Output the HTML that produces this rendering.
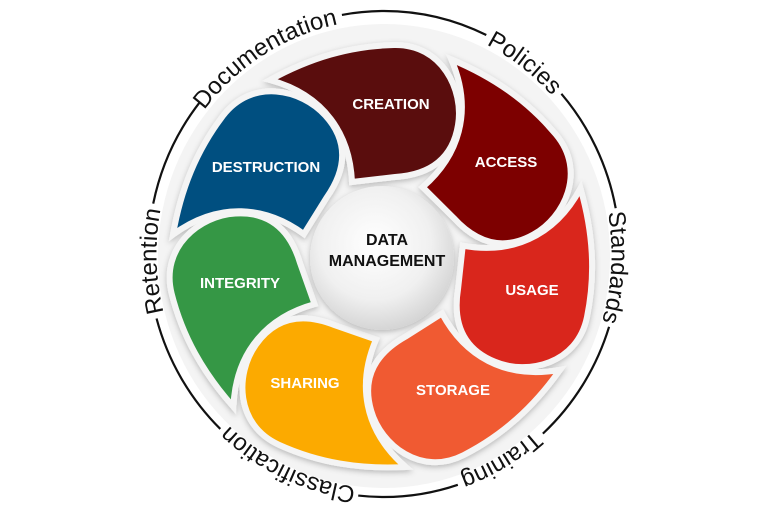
<!DOCTYPE html>
<html><head><meta charset="utf-8"><style>
html,body{margin:0;padding:0;background:#fff;}
svg{display:block;}
</style></head><body>
<svg width="768" height="512" viewBox="0 0 768 512" xmlns="http://www.w3.org/2000/svg">
<defs>
<filter id="sh" x="-20%" y="-20%" width="140%" height="140%"><feDropShadow dx="0" dy="2" stdDeviation="3" flood-color="#000" flood-opacity="0.25"/></filter>
<radialGradient id="cg" cx="45%" cy="40%" r="65%"><stop offset="0" stop-color="#ffffff"/><stop offset="0.6" stop-color="#f0f0f0"/><stop offset="1" stop-color="#cfcfcf"/></radialGradient>
<path id="petal" d="M270,80 C310,58 350,46 394,45 C442,44 464,90 458,125 C452,162 426,175 395,177 L352,182 C350,135 325,95 270,80 Z"/>
<path id="ring" d="M384,11 A236,243 0 0 1 384,497 A236,243 0 0 1 384,11 Z"/>
</defs>
<ellipse cx="384" cy="256" rx="226" ry="232" fill="#f4f4f4"/>
<use href="#ring" fill="none" stroke="#111" stroke-width="2.2" stroke-dasharray="106 96 128 120 127 100 101 156 129 116 113 170 40 0"/>
<g font-family="Liberation Sans, sans-serif" font-size="24" fill="#111" letter-spacing="0.5">
<text dy="0.35em"><textPath href="#ring" startOffset="154" text-anchor="middle">Policies</textPath></text>
<text dy="0.35em"><textPath href="#ring" startOffset="390" text-anchor="middle">Standards</textPath></text>
<text dy="0.35em"><textPath href="#ring" startOffset="627" text-anchor="middle">Training</textPath></text>
<text dy="0.35em"><textPath href="#ring" startOffset="856" text-anchor="middle">Classification</textPath></text>
<text dy="0.35em"><textPath href="#ring" startOffset="1121" text-anchor="middle">Retention</textPath></text>
<text dy="0.35em"><textPath href="#ring" startOffset="1372" text-anchor="middle">Documentation</textPath></text>
</g>
<g stroke="#f4f4f4" stroke-width="6" filter="url(#sh)">
<use href="#petal" fill="#7d0000" transform="rotate(51.43 382 258)"/>
<use href="#petal" fill="#d9251f" transform="rotate(102.86 382 258)"/>
<use href="#petal" fill="#f05a30" transform="rotate(154.29 382 258)"/>
<use href="#petal" fill="#fcaa05" transform="rotate(205.71 382 258)"/>
<use href="#petal" fill="#359745" transform="rotate(257.14 382 258)"/>
<use href="#petal" fill="#064f80" transform="rotate(308.57 382 258)"/>
<use href="#petal" fill="#5a0c0c"/>
</g>
<circle cx="382" cy="258" r="72" fill="url(#cg)" filter="url(#sh)"/>
<g font-family="Liberation Sans, sans-serif" font-size="15" font-weight="bold" fill="#fff" text-anchor="middle">
<text x="391" y="109">CREATION</text>
<text x="506" y="167">ACCESS</text>
<text x="532" y="295">USAGE</text>
<text x="453" y="395">STORAGE</text>
<text x="305" y="388">SHARING</text>
<text x="240" y="288">INTEGRITY</text>
<text x="266" y="172">DESTRUCTION</text>
</g>
<g font-family="Liberation Sans, sans-serif" font-size="16" font-weight="bold" fill="#111" text-anchor="middle">
<text x="387" y="245">DATA</text>
<text x="387" y="266">MANAGEMENT</text>
</g>
</svg>
</body></html>
